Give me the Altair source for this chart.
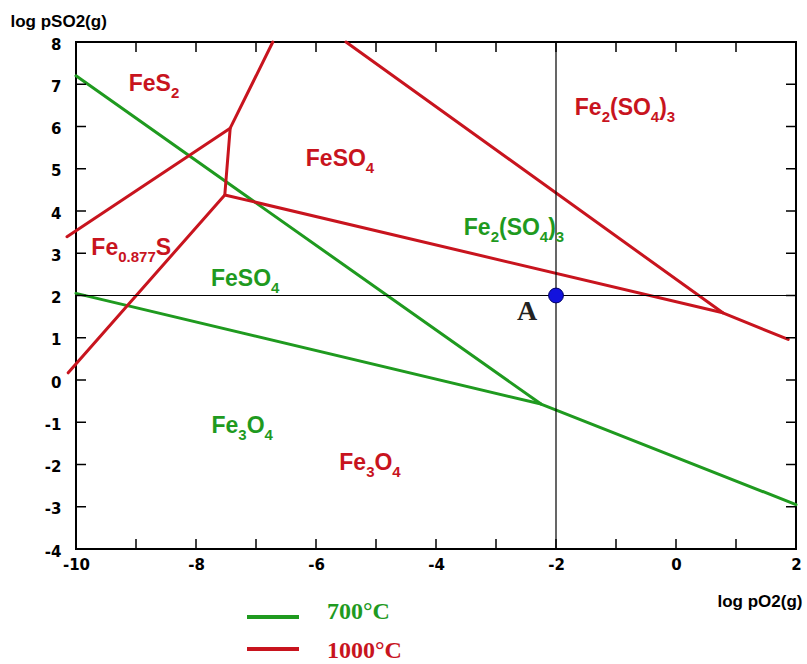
import altair as alt
import pandas as pd

# ---------------- data (log pO2 on x, log pSO2 on y) ----------------
# 700 °C phase boundaries
g700_a_x = [-10.0, -2.25]
g700_a_y = [7.2, -0.57]
g700_b_x = [-10.0, -2.25, 2.0]
g700_b_y = [2.05, -0.57, -2.95]
# 1000 °C phase boundaries
r1000_a_x = [-10.15, -7.43, -6.72]
r1000_a_y = [3.39, 5.96, 8.0]
r1000_b_x = [-7.43, -7.52]
r1000_b_y = [5.96, 4.38]
r1000_c_x = [-10.13, -7.52, 0.78, 1.87]
r1000_c_y = [0.17, 4.38, 1.59, 0.96]
r1000_d_x = [-5.5, 0.78]
r1000_d_y = [8.0, 1.59]

# point A
point_x = [-2.0]
point_y = [2.0]

# axis ticks
x_ticks = list(range(-10, 3))
y_ticks = list(range(-4, 9))
x_labels = [-10, -8, -6, -4, -2, 0, 2]

# region labels: pieces of (text, is_subscript)
region_pieces = [
    [("FeS", 0), ("2", 1)],
    [("FeSO", 0), ("4", 1)],
    [("Fe", 0), ("2", 1), ("(SO", 0), ("4", 1), (")", 0), ("3", 1)],
    [("Fe", 0), ("0.877", 1), ("S", 0)],
    [("Fe", 0), ("3", 1), ("O", 0), ("4", 1)],
    [("Fe", 0), ("2", 1), ("(SO", 0), ("4", 1), (")", 0), ("3", 1)],
    [("FeSO", 0), ("4", 1)],
    [("Fe", 0), ("3", 1), ("O", 0), ("4", 1)],
]
region_x = [-8.7, -5.6, -0.85, -9.08, -5.1, -2.7, -7.18, -7.23]
region_y = [7.03, 5.25, 6.46, 3.15, -1.94, 3.62, 2.41, -1.07]
region_temp = ["1000°C"] * 5 + ["700°C"] * 3

temps = ["700°C", "1000°C"]

# ---------------- styling ----------------
GREEN = "#1f9a1f"
RED = "#c8141e"
W, H = 720, 507
X0, X1, Y0, Y1 = -10, 2, -4, 8
PXU = W / (X1 - X0)
PYU = H / (Y1 - Y0)
FS_MAIN, FS_SUB, SUB_DROP = 23, 15, 7
ADV = {"F": 611, "e": 556, "S": 667, "O": 778, "(": 333, ")": 333, ".": 278}


def text_w(s, fs):
    return sum(ADV.get(c, 556) for c in s) * fs / 1000.0


segments = [
    ("g_a", "700°C", g700_a_x, g700_a_y),
    ("g_b", "700°C", g700_b_x, g700_b_y),
    ("r_a", "1000°C", r1000_a_x, r1000_a_y),
    ("r_b", "1000°C", r1000_b_x, r1000_b_y),
    ("r_c", "1000°C", r1000_c_x, r1000_c_y),
    ("r_d", "1000°C", r1000_d_x, r1000_d_y),
]
rows = []
for seg, temp, xs_, ys_ in segments:
    for i, (xv, yv) in enumerate(zip(xs_, ys_)):
        rows.append({"seg": seg, "temp": temp, "x": xv, "y": yv, "order": i})
lines_df = pd.DataFrame(rows)

# label pieces laid out left to right around each label centre
lab_rows = []
for pieces, cx, cy, temp in zip(region_pieces, region_x, region_y, region_temp):
    widths = [text_w(t, FS_SUB if s else FS_MAIN) for t, s in pieces]
    total = sum(widths)
    off = -total / 2
    base_y = cy - (0.716 * FS_MAIN / 2) / PYU
    for (t, s), w in zip(pieces, widths):
        lab_rows.append({
            "text": t, "temp": temp,
            "x": cx + off / PXU,
            "y": base_y - (SUB_DROP / PYU if s else 0),
            "fs": FS_SUB if s else FS_MAIN,
        })
        off += w
labels_df = pd.DataFrame(lab_rows)

xs = alt.Scale(domain=[X0, X1], nice=False, zero=False)
ys = alt.Scale(domain=[Y0, Y1], nice=False, zero=False)
cs = alt.Scale(domain=temps, range=[GREEN, RED])

x_axis = alt.Axis(
    values=x_labels, ticks=False, domain=False, grid=False,
    labelExpr="'' + datum.value",
    labelFont="DejaVu Sans", labelFontWeight="bold", labelFontSize=15,
    labelColor="black", labelPadding=8, labelFlush=False,
    title="log pO2(g)", titleFont="Liberation Sans", titleFontWeight="bold",
    titleFontSize=17, titleColor="black", titleX=641, titleY=57,
    titleAlign="left", titleBaseline="alphabetic", titleAnchor="start",
)
y_axis = alt.Axis(
    values=y_ticks, ticks=False, domain=False, grid=False,
    labelExpr="'' + datum.value",
    labelFont="DejaVu Sans", labelFontWeight="bold", labelFontSize=15,
    labelColor="black", labelPadding=15, labelFlush=False, labelOffset=2,
    title="log pSO2(g)", titleFont="Liberation Sans", titleFontWeight="bold",
    titleFontSize=17, titleColor="black", titleAngle=0, titleX=-66, titleY=-16,
    titleAlign="left", titleBaseline="alphabetic", titleAnchor="start",
)


def X(field="x"):
    return alt.X(f"{field}:Q", scale=xs, axis=x_axis)


def Y(field="y"):
    return alt.Y(f"{field}:Q", scale=ys, axis=y_axis)


lines = alt.Chart(lines_df).mark_line(
    strokeWidth=3, clip=False, strokeCap="round", strokeJoin="round"
).encode(
    x=X(), y=Y(),
    color=alt.Color("temp:N", scale=cs, legend=None),
    detail="seg:N",
    order="order:Q",
)

hline = alt.Chart(pd.DataFrame({"y": point_y})).mark_rule(
    color="black", strokeWidth=1.2
).encode(y=Y())
vline = alt.Chart(pd.DataFrame({"x": point_x})).mark_rule(
    color="black", strokeWidth=1.2
).encode(x=X())

xt = pd.DataFrame({"x": x_ticks})
yt = pd.DataFrame({"y": y_ticks})
tick_style = dict(color="black", strokeWidth=1.5)
t_bottom = alt.Chart(xt).mark_rule(**tick_style).encode(
    x=X(), y=alt.value(H), y2=alt.value(H - 10))
t_top = alt.Chart(xt).mark_rule(**tick_style).encode(
    x=X(), y=alt.value(0), y2=alt.value(10))
t_left = alt.Chart(yt).mark_rule(**tick_style).encode(
    y=Y(), x=alt.value(0), x2=alt.value(10))
t_right = alt.Chart(yt).mark_rule(**tick_style).encode(
    y=Y(), x=alt.value(W), x2=alt.value(W - 10))

labels = alt.Chart(labels_df).mark_text(
    font="Liberation Sans", fontWeight="bold",
    align="left", baseline="alphabetic"
).encode(
    x=X(), y=Y(),
    text="text:N",
    size=alt.Size("fs:Q", scale=None, legend=None),
    color=alt.Color("temp:N", scale=cs, legend=None),
)

pt_df = pd.DataFrame({"x": point_x, "y": point_y, "name": ["A"]})
point = alt.Chart(pt_df).mark_point(
    filled=True, size=220, fill="#1212dd", stroke="#000066", strokeWidth=1,
    opacity=1
).encode(x=X(), y=Y())
point_label = alt.Chart(pt_df).mark_text(
    font="Liberation Serif", fontWeight="bold", fontSize=28, color="#222222",
    dx=-29, dy=16, align="center", baseline="middle"
).encode(x=X(), y=Y(), text="name:N")

# manual legend below the plot
leg_layers = []
for temp, yline, ytext in zip(temps, [575, 607], [570, 609]):
    ldf = pd.DataFrame({"temp": [temp]})
    leg_layers.append(alt.Chart(ldf).mark_rule(strokeWidth=4).encode(
        x=alt.value(171), x2=alt.value(223), y=alt.value(yline),
        color=alt.Color("temp:N", scale=cs, legend=None)))
    leg_layers.append(alt.Chart(ldf).mark_text(
        font="Liberation Serif", fontWeight="bold", fontSize=24,
        align="left", baseline="middle").encode(
        x=alt.value(251), y=alt.value(ytext), text="temp:N",
        color=alt.Color("temp:N", scale=cs, legend=None)))

chart = alt.layer(
    lines, hline, vline, t_bottom, t_top, t_left, t_right, labels,
    point, point_label, *leg_layers
).properties(
    width=W, height=H,
    autosize=alt.AutoSizeParams(type="none"),
    padding={"left": 76, "top": 42, "right": 11, "bottom": 115},
).configure_view(stroke="black", strokeWidth=2)

chart.save("out.html", embed_options={"renderer": "svg", "actions": False})
